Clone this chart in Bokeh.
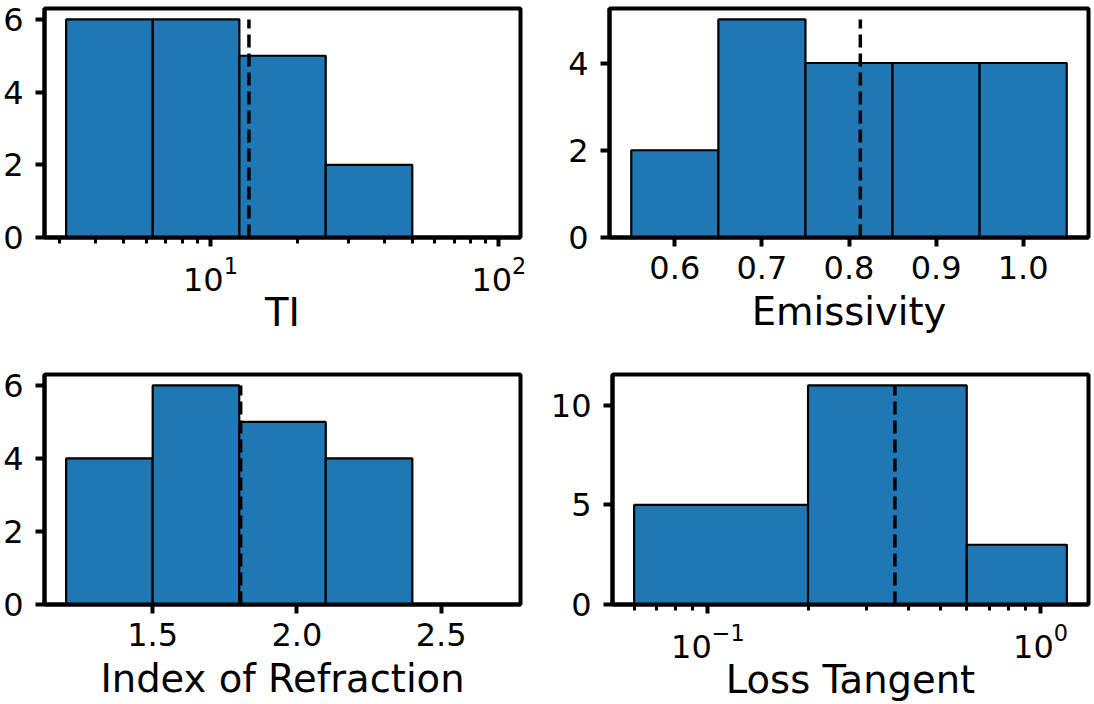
import math
from bokeh.plotting import figure
from bokeh.models import Range1d, FixedTicker, PrintfTickFormatter
from bokeh.layouts import column, row
from bokeh.embed import file_html
from bokeh.resources import INLINE

# ---------------- data ----------------
ti_edges = [3.16, 6.31, 12.6, 25.1, 50.1, 100.0]
ti_counts = [6, 6, 5, 2, 0]
ti_mean = 13.6
ti_xticks = [10, 100]
ti_xminor = [3, 4, 5, 6, 7, 8, 9, 20, 30, 40, 50, 60, 70, 80, 90]
ti_yticks = [0, 2, 4, 6]

em_edges = [0.55, 0.65, 0.75, 0.85, 0.95, 1.05]
em_counts = [2, 5, 4, 4, 4]
em_mean = 0.813
em_xticks = [0.6, 0.7, 0.8, 0.9, 1.0]
em_yticks = [0, 2, 4]

ior_edges = [1.2, 1.5, 1.8, 2.1, 2.4, 2.7]
ior_counts = [4, 6, 5, 4, 0]
ior_mean = 1.805
ior_xticks = [1.5, 2.0, 2.5]
ior_yticks = [0, 2, 4, 6]

lt_edges = [0.06, 0.2, 0.6, 1.2]
lt_counts = [5, 11, 3]
lt_mean = 0.365
lt_xticks = [0.1, 1]
lt_xminor = [0.06, 0.07, 0.08, 0.09, 0.2, 0.3, 0.4, 0.5, 0.6, 0.7, 0.8, 0.9]
lt_yticks = [0, 5, 10]

FONT = "DejaVu Sans"
BLUE = "#1f77b4"


def panel(edges, counts, mean, xlabel, log, xticks, yticks, xminor,
          width, height, borders):
    top_b, right_b, bottom_b, left_b = borders
    if log:
        lo, hi = math.log10(edges[0]), math.log10(edges[-1])
        pad = 0.05 * (hi - lo)
        xr = Range1d(10 ** (lo - pad), 10 ** (hi + pad))
    else:
        pad = 0.05 * (edges[-1] - edges[0])
        xr = Range1d(edges[0] - pad, edges[-1] + pad)
    yr = Range1d(0, 1.05 * max(counts))
    p = figure(width=width, height=height,
               x_axis_type="log" if log else "linear",
               x_range=xr, y_range=yr,
               output_backend="svg", toolbar_location=None,
               min_border_top=top_b, min_border_right=right_b,
               min_border_bottom=bottom_b, min_border_left=left_b)
    p.quad(left=edges[:-1], right=edges[1:], bottom=0, top=counts,
           fill_color=BLUE, line_color="black", line_width=2.2)
    p.segment(x0=[mean], y0=[0], x1=[mean], y1=[max(counts)],
              line_color="black", line_width=3.5, line_dash="13 6")
    p.grid.visible = False
    p.outline_line_color = "black"
    p.outline_line_width = 4
    p.outline_line_alpha = 1.0
    p.background_fill_color = "white"
    p.border_fill_color = "white"

    p.xaxis.ticker = FixedTicker(ticks=xticks, minor_ticks=xminor or [])
    p.yaxis.ticker = FixedTicker(ticks=yticks, minor_ticks=[])
    if not log:
        p.xaxis.formatter = PrintfTickFormatter(format="%.1f")
    p.xaxis.axis_label = xlabel

    for ax in (p.xaxis[0], p.yaxis[0]):
        ax.axis_line_width = 4
        ax.axis_line_color = "black"
        ax.major_tick_line_width = 4
        ax.major_tick_line_color = "black"
        ax.major_tick_out = 9
        ax.major_tick_in = 0
        ax.minor_tick_line_width = 3
        ax.minor_tick_line_color = "black"
        ax.minor_tick_out = 6
        ax.minor_tick_in = 0
        ax.major_label_text_font = FONT
        ax.major_label_text_font_size = "32px"
        ax.major_label_text_color = "black"
        ax.axis_label_text_font = FONT
        ax.axis_label_text_font_size = "38.5px"
        ax.axis_label_text_font_style = "normal"
        ax.axis_label_text_color = "black"
    p.xaxis.major_label_standoff = 9
    p.xaxis.axis_label_standoff = -4 if log else 7
    p.yaxis.major_label_standoff = 12
    return p


W1, W2 = 547, 547
H1, H2 = 341, 363

p1 = panel(ti_edges, ti_counts, ti_mean, "TI", True, ti_xticks, ti_yticks,
           ti_xminor, W1, H1, (8, 27, 104, 42))
p2 = panel(em_edges, em_counts, em_mean, "Emissivity", False, em_xticks, em_yticks,
           None, W2, H1, (8, 6, 104, 62))
p3 = panel(ior_edges, ior_counts, ior_mean, "Index of Refraction", False, ior_xticks,
           ior_yticks, None, W1, H2, (33, 27, 98, 42))
p4 = panel(lt_edges, lt_counts, lt_mean, "Loss Tangent", True, lt_xticks, lt_yticks,
           lt_xminor, W2, H2, (33, 6, 98, 62))

layout = column(row(p1, p2), row(p3, p4))
open("out.html", "w").write(file_html(layout, INLINE))
